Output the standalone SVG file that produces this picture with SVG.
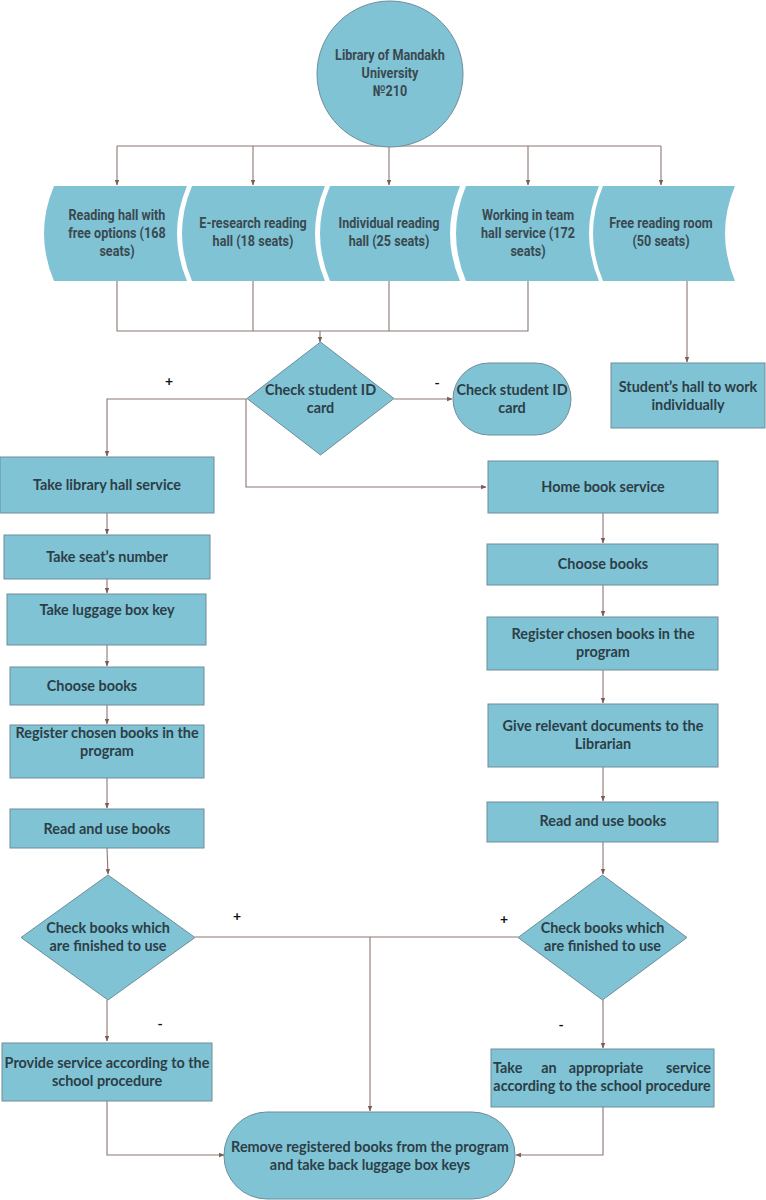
<svg xmlns="http://www.w3.org/2000/svg" width="766" height="1200" viewBox="0 0 766 1200">
<defs>
<marker id="ah" viewBox="0 0 10 10" refX="9" refY="5" markerWidth="5" markerHeight="5" orient="auto">
<path d="M0,1 L10,5 L0,9 Z" fill="#7a5c55"/>
</marker>
<style>
.n{fill:#80c3d5;stroke:#6f8d99;stroke-width:1}
.h{fill:#80c3d5;stroke:none}
.r{font-family:Roboto,"Liberation Sans",sans-serif;font-weight:bold;font-size:15px;fill:#3a4950;text-anchor:middle}
.l{font-family:Lato,"Open Sans",sans-serif;font-weight:bold;font-size:14.4px;fill:#2c3e46;text-anchor:middle}
.s{font-family:Lato,"Open Sans",sans-serif;font-weight:bold;font-size:14px;fill:#111;text-anchor:middle}
.c{fill:none;stroke:#8c7672;stroke-width:1.1}
</style>
</defs>
<rect width="766" height="1200" fill="#ffffff"/>

<g id="connectors">
<path class="c" d="M117,146 L661,146"/>
<path class="c" d="M117,146 L117,185" marker-end="url(#ah)"/>
<path class="c" d="M253,146 L253,185" marker-end="url(#ah)"/>
<path class="c" d="M389,146 L389,185" marker-end="url(#ah)"/>
<path class="c" d="M528,146 L528,185" marker-end="url(#ah)"/>
<path class="c" d="M661,146 L661,185" marker-end="url(#ah)"/>
<path class="c" d="M117,281 L117,331 L528,331 L528,281"/>
<path class="c" d="M253,281 L253,331"/>
<path class="c" d="M389,281 L389,331"/>
<path class="c" d="M320,331 L320,342" marker-end="url(#ah)"/>
<path class="c" d="M687,281 L687,362" marker-end="url(#ah)"/>
<path class="c" d="M394,399 L452,399" marker-end="url(#ah)"/>
<path class="c" d="M247,399 L107,399 L107,456" marker-end="url(#ah)"/>
<path class="c" d="M246,399 L246,487 L486,487" marker-end="url(#ah)"/>
<path class="c" d="M107,513 L107,534" marker-end="url(#ah)"/>
<path class="c" d="M107,579 L107,593" marker-end="url(#ah)"/>
<path class="c" d="M107,645 L107,666" marker-end="url(#ah)"/>
<path class="c" d="M107,705 L107,724" marker-end="url(#ah)"/>
<path class="c" d="M107,778 L107,808" marker-end="url(#ah)"/>
<path class="c" d="M107,848 L108,874" marker-end="url(#ah)"/>
<path class="c" d="M603,513 L603,543" marker-end="url(#ah)"/>
<path class="c" d="M603,585 L603,616" marker-end="url(#ah)"/>
<path class="c" d="M603,670 L603,703" marker-end="url(#ah)"/>
<path class="c" d="M603,767 L603,801" marker-end="url(#ah)"/>
<path class="c" d="M603,842 L603,874" marker-end="url(#ah)"/>
<path class="c" d="M195,937 L518,937"/>
<path class="c" d="M370,937 L370,1111" marker-end="url(#ah)"/>
<path class="c" d="M107,1000 L107,1041" marker-end="url(#ah)"/>
<path class="c" d="M603,1000 L603,1048" marker-end="url(#ah)"/>
<path class="c" d="M107,1101 L107,1155 L224,1155" marker-end="url(#ah)"/>
<path class="c" d="M603,1107 L603,1155 L516,1155" marker-end="url(#ah)"/>
<text class="s" x="169" y="386">+</text>
<text class="s" x="437" y="388">-</text>
<text class="s" x="237" y="921">+</text>
<text class="s" x="504" y="924">+</text>
<text class="s" x="160" y="1029">-</text>
<text class="s" x="561" y="1030">-</text>
</g>

<g id="library">
<circle class="n" cx="390" cy="74" r="73"/>
<g transform="matrix(0.84,0,0,1,62.4,0)">
<text class="r" x="390" y="60">Library of Mandakh</text>
<text class="r" x="390" y="78">University</text>
<text class="r" x="390" y="96">№210</text>
</g>
</g>

<g id="hall1">
<path class="h" d="M54,186 L187,186 Q167,233.5 187,281 L54,281 Q34,233.5 54,186 Z"/>
<g transform="matrix(0.84,0,0,1,18.72,0)">
<text class="r" x="117" y="220">Reading hall with</text>
<text class="r" x="117" y="238">free options (168</text>
<text class="r" x="117" y="256">seats)</text>
</g>
</g>
<g id="hall2">
<path class="h" d="M192,186 L325,186 Q305,233.5 325,281 L192,281 Q172,233.5 192,186 Z"/>
<g transform="matrix(0.84,0,0,1,40.48,0)">
<text class="r" x="253" y="228">E-research reading</text>
<text class="r" x="253" y="246">hall (18 seats)</text>
</g>
</g>
<g id="hall3">
<path class="h" d="M330,186 L460,186 Q440,233.5 460,281 L330,281 Q310,233.5 330,186 Z"/>
<g transform="matrix(0.84,0,0,1,62.24,0)">
<text class="r" x="389" y="228">Individual reading</text>
<text class="r" x="389" y="246">hall (25 seats)</text>
</g>
</g>
<g id="hall4">
<path class="h" d="M466,186 L599,186 Q579,233.5 599,281 L466,281 Q446,233.5 466,186 Z"/>
<g transform="matrix(0.84,0,0,1,84.48,0)">
<text class="r" x="528" y="220">Working in team</text>
<text class="r" x="528" y="238">hall service  (172</text>
<text class="r" x="528" y="256">seats)</text>
</g>
</g>
<g id="hall5">
<path class="h" d="M603,186 L735,186 Q715,233.5 735,281 L603,281 Q583,233.5 603,186 Z"/>
<g transform="matrix(0.84,0,0,1,105.76,0)">
<text class="r" x="661" y="228">Free reading room</text>
<text class="r" x="661" y="246">(50 seats)</text>
</g>
</g>

<g id="checkid">
<path class="n" d="M320.5,342 L394,398.5 L320.5,455 L247,398.5 Z"/>
<text class="l" x="320.5" y="395">Check student ID</text>
<text class="l" x="320.5" y="413">card</text>
</g>
<g id="checkid2">
<rect class="n" x="453" y="363" width="118" height="72" rx="36" ry="36"/>
<text class="l" x="512" y="395">Check student ID</text>
<text class="l" x="512" y="413">card</text>
</g>
<g id="studenthall">
<rect class="n" x="611" y="363" width="154" height="65"/>
<text class="l" x="688" y="392">Student’s hall to work</text>
<text class="l" x="688" y="410">individually</text>
</g>

<g id="libhall">
<rect class="n" x="0" y="457" width="214" height="56"/>
<text class="l" x="107" y="490">Take library hall service</text>
</g>
<g id="seat">
<rect class="n" x="4" y="535" width="206" height="44"/>
<text class="l" x="107" y="562">Take seat’s number</text>
</g>
<g id="luggage">
<rect class="n" x="7" y="594" width="199" height="51"/>
<text class="l" x="107" y="615">Take luggage box key</text>
</g>
<g id="choose1">
<rect class="n" x="10" y="667" width="194" height="38"/>
<text class="l" x="92" y="691">Choose books</text>
</g>
<g id="register1">
<rect class="n" x="10" y="725" width="194" height="53"/>
<text class="l" x="107" y="738">Register chosen books in the</text>
<text class="l" x="107" y="756">program</text>
</g>
<g id="read1">
<rect class="n" x="10" y="809" width="194" height="39"/>
<text class="l" x="107" y="834">Read and use books</text>
</g>
<g id="checkbooks1">
<path class="n" d="M108,875 L195,937.5 L108,1000 L21,937.5 Z"/>
<text class="l" x="108" y="933">Check books which</text>
<text class="l" x="108" y="951">are finished to use</text>
</g>
<g id="provide">
<rect class="n" x="2" y="1043" width="210" height="58"/>
<text class="l" x="107" y="1068">Provide service according to the</text>
<text class="l" x="107" y="1086">school procedure</text>
</g>

<g id="homebook">
<rect class="n" x="488" y="461" width="230" height="52"/>
<text class="l" x="603" y="492">Home book service</text>
</g>
<g id="choose2">
<rect class="n" x="487" y="544" width="231" height="41"/>
<text class="l" x="603" y="569">Choose books</text>
</g>
<g id="register2">
<rect class="n" x="487" y="617" width="231" height="53"/>
<text class="l" x="603" y="639">Register chosen books in the</text>
<text class="l" x="603" y="657">program</text>
</g>
<g id="documents">
<rect class="n" x="488" y="704" width="230" height="63"/>
<text class="l" x="603" y="731">Give relevant documents to the</text>
<text class="l" x="603" y="749">Librarian</text>
</g>
<g id="read2">
<rect class="n" x="487" y="802" width="231" height="40"/>
<text class="l" x="603" y="826">Read and use books</text>
</g>
<g id="checkbooks2">
<path class="n" d="M602.5,875 L687,937.5 L602.5,1000 L518,937.5 Z"/>
<text class="l" x="602.5" y="933">Check books which</text>
<text class="l" x="602.5" y="951">are finished to use</text>
</g>
<g id="appropriate">
<rect class="n" x="491" y="1049" width="223" height="58"/>
<text class="l" x="493" y="1073" style="text-anchor:start">Take</text>
<text class="l" x="549" y="1073">an</text>
<text class="l" x="606" y="1073">appropriate</text>
<text class="l" x="711" y="1073" style="text-anchor:end">service</text>
<text class="l" x="602" y="1091">according to the school procedure</text>
</g>

<g id="remove">
<rect class="n" x="224" y="1112" width="291" height="87" rx="43" ry="43"/>
<text class="l" x="370" y="1152">Remove registered books from the program</text>
<text class="l" x="370" y="1170">and take back luggage box keys</text>
</g>
</svg>
